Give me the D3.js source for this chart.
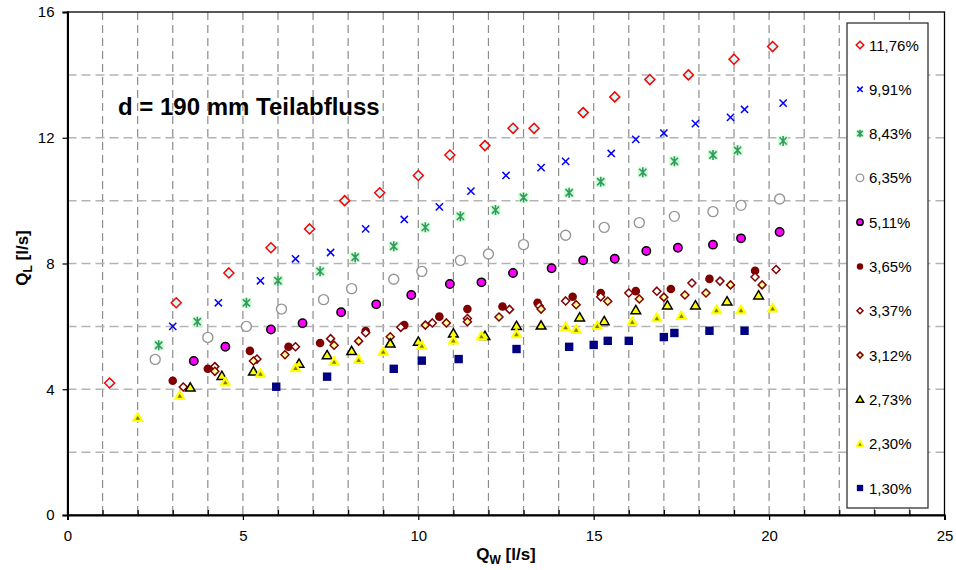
<!DOCTYPE html>
<html>
<head>
<meta charset="utf-8">
<script src="https://cdn.jsdelivr.net/npm/d3@7"></script>
<style>
  body { margin: 0; background: #fff; }
  text { font-family: "Liberation Sans", Arial, sans-serif; }
</style>
</head>
<body>
<div id="chart"></div>
<script>
// values, [Q_W, Q_L]
const s1176 = [[1.2,4.2],[3.1,6.75],[4.6,7.7],[5.8,8.5],[6.9,9.1],[7.9,10.0],[8.9,10.25],[10.0,10.8],[10.9,11.45],[11.9,11.75],[12.7,12.3],[13.3,12.3],[14.7,12.8],[15.6,13.3],[16.6,13.85],[17.7,14.0],[19.0,14.5],[20.1,14.9]];
const s991 = [[3.0,6.0],[4.3,6.75],[5.5,7.45],[6.5,8.15],[7.5,8.35],[8.5,9.1],[9.6,9.4],[10.6,9.8],[11.5,10.3],[12.5,10.8],[13.5,11.05],[14.2,11.25],[15.5,11.5],[16.2,11.95],[17.0,12.15],[17.9,12.45],[18.9,12.65],[19.3,12.9],[20.4,13.1]];
const s843 = [[2.6,5.4],[3.7,6.15],[5.1,6.75],[6.0,7.45],[7.2,7.75],[8.2,8.2],[9.3,8.55],[10.2,9.15],[11.2,9.5],[12.2,9.7],[13.0,10.1],[14.3,10.25],[15.2,10.6],[16.4,10.9],[17.3,11.25],[18.4,11.45],[19.1,11.6],[20.4,11.9]];
const s635 = [[2.5,4.95],[4.0,5.65],[5.1,6.0],[6.1,6.55],[7.3,6.85],[8.1,7.2],[9.3,7.5],[10.1,7.75],[11.2,8.1],[12.0,8.3],[13.0,8.6],[14.2,8.9],[15.3,9.15],[16.3,9.3],[17.3,9.5],[18.4,9.65],[19.2,9.85],[20.3,10.05]];
const s511 = [[3.6,4.9],[4.5,5.35],[5.8,5.9],[6.7,6.1],[7.8,6.45],[8.8,6.7],[9.8,7.0],[10.9,7.35],[11.8,7.4],[12.7,7.7],[13.8,7.85],[14.7,8.1],[15.6,8.15],[16.5,8.4],[17.4,8.5],[18.4,8.6],[19.2,8.8],[20.3,9.0]];
const s365 = [[3.0,4.27],[4.0,4.65],[5.2,5.22],[6.3,5.35],[7.2,5.47],[8.5,5.85],[9.6,6.04],[10.6,6.31],[11.4,6.55],[12.4,6.63],[13.4,6.75],[14.4,6.94],[15.2,7.06],[16.2,7.12],[17.2,7.19],[18.3,7.51],[19.6,7.77]];
const s337 = [[3.3,4.07],[4.2,4.72],[5.4,4.96],[6.5,5.35],[7.5,5.61],[8.5,5.8],[9.5,5.97],[10.4,6.11],[11.4,6.25],[12.6,6.54],[13.45,6.65],[14.2,6.81],[15.2,6.94],[16.0,7.06],[16.8,7.12],[17.8,7.38],[18.6,7.44],[19.6,7.57],[20.2,7.81]];
const s312 = [[4.2,4.57],[5.3,4.9],[6.2,5.1],[7.6,5.4],[8.3,5.53],[9.2,5.67],[10.2,6.04],[10.8,6.11],[11.4,6.15],[12.3,6.3],[13.5,6.55],[14.5,6.69],[15.4,6.8],[16.3,6.87],[17.0,6.93],[17.6,7.0],[18.2,7.06],[18.9,7.32],[19.8,7.32]];
const s273 = [[3.5,4.06],[4.4,4.43],[5.3,4.57],[6.6,4.82],[7.4,5.09],[8.1,5.22],[9.2,5.46],[10.0,5.52],[11.0,5.78],[11.9,5.7],[12.8,6.02],[13.5,6.03],[14.6,6.29],[15.3,6.17],[16.2,6.52],[17.1,6.67],[17.9,6.67],[18.8,6.8],[19.7,6.99]];
const s230 = [[2.0,3.11],[3.2,3.81],[4.5,4.24],[5.5,4.51],[6.5,4.69],[7.6,4.89],[8.3,4.95],[9.0,5.21],[10.1,5.4],[11.0,5.57],[11.8,5.7],[12.8,5.77],[14.2,5.99],[14.5,5.91],[15.1,6.03],[16.1,6.16],[16.8,6.28],[17.5,6.35],[18.5,6.53],[19.2,6.53],[20.1,6.59]];
const s130 = [[5.95,4.08],[7.4,4.4],[9.3,4.65],[10.1,4.91],[11.15,4.96],[12.8,5.28],[14.3,5.35],[15.0,5.41],[15.4,5.54],[16.0,5.54],[17.0,5.66],[17.3,5.79],[18.3,5.86],[19.3,5.86]];

const seriesNames = ["11,76%","9,91%","8,43%","6,35%","5,11%","3,65%","3,37%","3,12%","2,73%","2,30%","1,30%"];
const seriesData = [s1176, s991, s843, s635, s511, s365, s337, s312, s273, s230, s130];
const markerTypes = ["diaCyan","cross","star","ring","magenta","dotRed","diaWhite","diaYellow","triBlack","triYellow","square"];

const xTicks = [0, 5, 10, 15, 20, 25];
const yTicks = [0, 4, 8, 12, 16];

const width = 956, height = 570;
const x = d3.scaleLinear().domain([0, 25]).range([67.5, 944.5]);
const y = d3.scaleLinear().domain([0, 16]).range([515, 12]);

const svg = d3.select("#chart").append("svg")
    .attr("width", width)
    .attr("height", height);

// dashed grid
svg.append("g").selectAll("line")
    .data(d3.range(1, 25))
    .join("line")
    .attr("x1", d => x(d)).attr("x2", d => x(d))
    .attr("y1", y(16)).attr("y2", y(0))
    .attr("stroke", "#8c8c8c").attr("stroke-width", 1.2)
    .attr("stroke-dasharray", "8,5");

svg.append("g").selectAll("line")
    .data(d3.range(2, 16, 2))
    .join("line")
    .attr("x1", x(0)).attr("x2", x(25))
    .attr("y1", d => y(d)).attr("y2", d => y(d))
    .attr("stroke", "#b4b4b4").attr("stroke-width", 1.5)
    .attr("stroke-dasharray", "9,5");

// plot frame
svg.append("rect")
    .attr("x", x(0)).attr("y", y(16))
    .attr("width", x(25) - x(0)).attr("height", y(0) - y(16))
    .attr("fill", "none").attr("stroke", "#000").attr("stroke-width", 1.3);

// axes
const xAxis = svg.append("g")
    .attr("transform", `translate(0,${y(0)})`)
    .call(d3.axisBottom(x).tickValues(xTicks).tickSize(5).tickPadding(10));
const xMinor = svg.append("g")
    .attr("transform", `translate(0,${y(0)})`)
    .call(d3.axisTop(x).tickValues(d3.range(1, 25).filter(d => d % 5)).tickSize(5).tickFormat(""));
const yAxis = svg.append("g")
    .attr("transform", `translate(${x(0)},0)`)
    .call(d3.axisLeft(y).tickValues(yTicks).tickSize(5).tickPadding(8));

[xAxis, xMinor, yAxis].forEach(g => {
  g.select(".domain").attr("stroke", "#000").attr("stroke-width", 2);
  g.selectAll(".tick line").attr("stroke", "#000").attr("stroke-width", 1.2);
  g.selectAll(".tick text").attr("font-size", 15).attr("fill", "#000")
    .style("font-family", "'Liberation Sans', Arial, sans-serif");
});
xMinor.select(".domain").remove();

// markers
function marker(g, type, k) {
  const diamond = r => `M0,${-r}L${r},0L0,${r}L${-r},0Z`;
  const tri = r => `M0,${-r}L${r * 1.05},${r * 0.8}L${-r * 1.05},${r * 0.8}Z`;
  if (type === "diaCyan") {
    g.append("path").attr("d", diamond(5 * k)).attr("fill", "#ccffff").attr("stroke", "#ff0000").attr("stroke-width", 1.5);
  } else if (type === "cross") {
    const r = 3.6 * k;
    g.append("path").attr("d", `M${-r},${-r}L${r},${r}M${-r},${r}L${r},${-r}`).attr("stroke", "#0000ff").attr("stroke-width", 1.5);
  } else if (type === "star") {
    const r = 5 * k, s = 3.6 * k;
    g.append("rect").attr("x", -r).attr("y", -r).attr("width", 2 * r).attr("height", 2 * r).attr("fill", "#ccffcc");
    g.append("path").attr("d", `M${-s},${-s}L${s},${s}M${-s},${s}L${s},${-s}M0,${-r}L0,${r}`).attr("stroke", "#339966").attr("stroke-width", 1.6);
  } else if (type === "ring") {
    g.append("circle").attr("r", 5 * k).attr("fill", "#fff").attr("stroke", "#969696").attr("stroke-width", 1.4);
  } else if (type === "magenta") {
    g.append("circle").attr("r", 4.2 * k).attr("fill", "#ff00ff").attr("stroke", "#000").attr("stroke-width", 1.5);
  } else if (type === "dotRed") {
    g.append("circle").attr("r", 4.3 * k).attr("fill", "#800000");
  } else if (type === "diaWhite") {
    g.append("path").attr("d", diamond(4 * k)).attr("fill", "#fff").attr("stroke", "#800000").attr("stroke-width", 1.5);
  } else if (type === "diaYellow") {
    g.append("path").attr("d", diamond(4 * k)).attr("fill", "#ffff99").attr("stroke", "#800000").attr("stroke-width", 1.5);
  } else if (type === "triBlack") {
    g.append("path").attr("d", tri(4.6 * k)).attr("fill", "#ffff00").attr("stroke", "#000").attr("stroke-width", 1.5);
  } else if (type === "triYellow") {
    g.append("path").attr("d", tri(5.2 * k)).attr("fill", "#ffff00").attr("stroke", "#ffff00").attr("stroke-width", 1);
    g.append("path").attr("d", tri(2.2 * k)).attr("transform", "translate(0,0.8)").attr("fill", "#808000");
  } else if (type === "square") {
    const r = 4.2 * k;
    g.append("rect").attr("x", -r).attr("y", -r).attr("width", 2 * r).attr("height", 2 * r).attr("fill", "#000080");
  }
}

seriesData.forEach((pts, i) => {
  svg.append("g").selectAll("g")
      .data(pts)
      .join("g")
      .attr("transform", d => `translate(${x(d[0])},${y(d[1])})`)
      .each(function() { marker(d3.select(this), markerTypes[i], 1); });
});

// title inside plot
svg.append("text")
    .attr("x", 118).attr("y", 115)
    .attr("font-size", 24).attr("font-weight", "bold")
    .text("d = 190 mm Teilabfluss");

// legend
const legend = svg.append("g");
legend.append("rect")
    .attr("x", 847).attr("y", 23).attr("width", 81).attr("height", 485)
    .attr("fill", "#fff").attr("stroke", "#333").attr("stroke-width", 1.3);
const legStep = 44.3;
seriesNames.forEach((name, i) => {
  const row = legend.append("g").attr("transform", `translate(860,${45 + i * legStep})`);
  marker(row, markerTypes[i], 0.75);
  row.append("text").attr("x", 9).attr("y", 5.5)
     .attr("font-size", 15).text(name);
});

// axis titles
const xl = svg.append("text")
    .attr("x", 506).attr("y", 560)
    .attr("text-anchor", "middle")
    .attr("font-size", 17).attr("font-weight", "bold");
xl.append("tspan").text("Q");
xl.append("tspan").attr("font-size", 12).attr("dy", 4).text("W");
xl.append("tspan").attr("dy", -4).text(" [l/s]");

const yl = svg.append("text")
    .attr("transform", "translate(28,258) rotate(-90)")
    .attr("text-anchor", "middle")
    .attr("font-size", 17).attr("font-weight", "bold");
yl.append("tspan").text("Q");
yl.append("tspan").attr("font-size", 12).attr("dy", 4).text("L");
yl.append("tspan").attr("dy", -4).text("  [l/s]");
</script>
</body>
</html>
